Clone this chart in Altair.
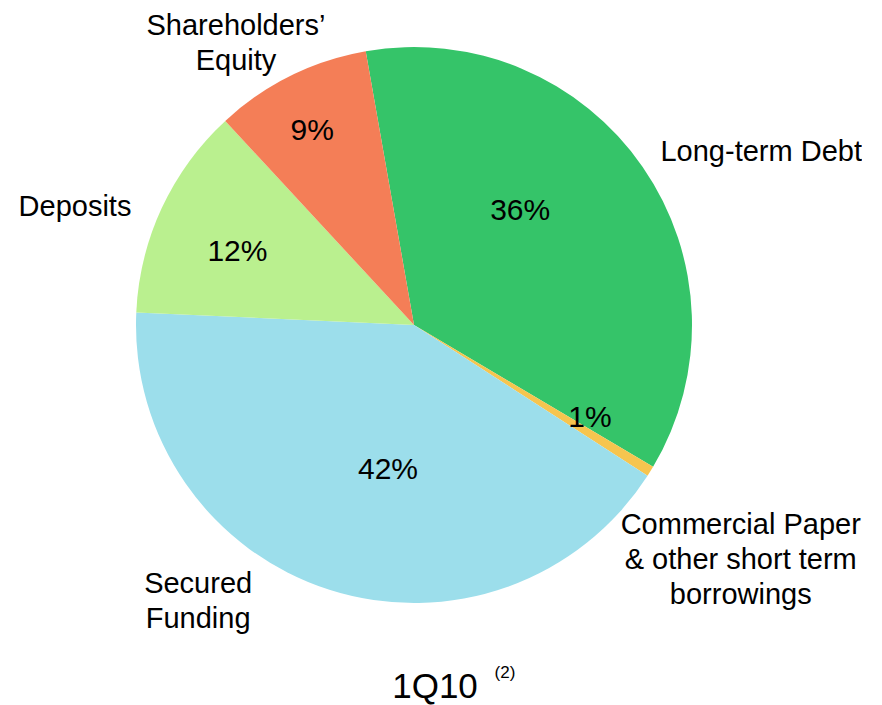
import math
import altair as alt
import pandas as pd

# ---- data ----
categories = [
    "Long-term Debt",
    "Commercial Paper & other short term borrowings",
    "Secured Funding",
    "Deposits",
    "Shareholders’ Equity",
]
shares = [36.3, 0.6, 41.6, 12.4, 9.1]
pct_labels = ["36%", "1%", "42%", "12%", "9%"]
name_labels = [
    ["Long-term Debt"],
    ["Commercial Paper", "& other short term", "borrowings"],
    ["Secured", "Funding"],
    ["Deposits"],
    ["Shareholders’", "Equity"],
]
title_text = "1Q10"
footnote_text = "(2)"

# ---- layout / style ----
colors = ["#35C469", "#F6C54F", "#9CDEEB", "#BAF08F", "#F47E57"]
START_DEG = -10.0
RADIUS = 278
pct_angle_deg = [42.9, 117.9, -169.8, -67.6, -27.7]
pct_radius = [156, 199, 147, 191, 219]
# anchor = centre of the first line of each label
name_angle_deg = [63.5, 121.45, -140.17, -70.8, -30.77]
name_radius = [388, 383, 337, 359, 348]
FONT = "Liberation Sans"

start = math.radians(START_DEG)

df = pd.DataFrame({
    "category": categories,
    "share": shares,
    "idx": list(range(len(categories))),
})

pct_df = pd.DataFrame({
    "label": pct_labels,
    "theta": [math.radians(a) for a in pct_angle_deg],
    "radius": pct_radius,
})

name_df = pd.DataFrame({
    "label": name_labels,
    "theta": [math.radians(a) for a in name_angle_deg],
    "radius": name_radius,
})

title_df = pd.DataFrame({"label": [title_text]})
foot_df = pd.DataFrame({"label": [footnote_text]})

pie = alt.Chart(df).mark_arc(outerRadius=RADIUS, strokeWidth=0).encode(
    theta=alt.Theta("share:Q", stack=True,
                    scale=alt.Scale(range=[start, start + 2 * math.pi])),
    color=alt.Color("category:N",
                    scale=alt.Scale(domain=categories, range=colors),
                    legend=None),
    order=alt.Order("idx:Q"),
)

pct_text = alt.Chart(pct_df).mark_text(
    font=FONT, fontSize=30, color="black", align="center", baseline="middle"
).encode(
    theta=alt.Theta("theta:Q", scale=None, stack=False),
    radius=alt.Radius("radius:Q", scale=None),
    text="label:N",
)

name_text = alt.Chart(name_df).mark_text(
    font=FONT, fontSize=29, color="black", align="center", baseline="middle",
    lineHeight=35,
).encode(
    theta=alt.Theta("theta:Q", scale=None, stack=False),
    radius=alt.Radius("radius:Q", scale=None),
    text="label",
)

title = alt.Chart(title_df).mark_text(
    font=FONT, fontSize=35, color="black", align="center", baseline="middle"
).encode(
    x=alt.value(427), y=alt.value(679), text="label:N",
)

foot = alt.Chart(foot_df).mark_text(
    font=FONT, fontSize=17, color="black", align="center", baseline="middle"
).encode(
    x=alt.value(497), y=alt.value(665), text="label:N",
)

chart = alt.layer(pie, pct_text, name_text, title, foot).resolve_scale(
    theta="independent", radius="independent"
).properties(
    width=812, height=634, padding=0
).configure_view(stroke=None)

chart.save("out.html", embed_options={"renderer": "svg", "actions": False})
